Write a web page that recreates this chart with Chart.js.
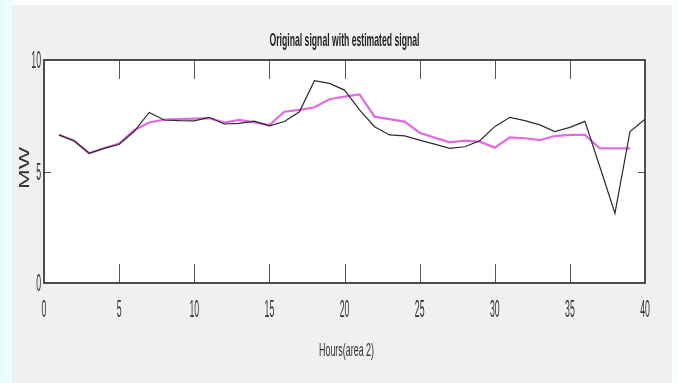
<!DOCTYPE html>
<html>
<head>
<meta charset="utf-8">
<script src="https://cdn.jsdelivr.net/npm/chart.js@4.4.1/dist/chart.umd.min.js"></script>
<style>
  html, body { margin: 0; padding: 0; background: #ffffff; }
  #wrap { width: 678px; height: 383px; }
</style>
</head>
<body>
<div id="wrap"><canvas id="c" width="678" height="383"></canvas></div>
<script>
// Hourly load for area 2 (MW): measured signal and its estimate
const hours = [1,2,3,4,5,6,7,8,9,10,11,12,13,14,15,16,17,18,19,20,
               21,22,23,24,25,26,27,28,29,30,31,32,33,34,35,36,37,38,39,40];
const original = [6.64,6.38,5.82,6.04,6.22,6.79,7.65,7.31,7.28,7.27,
                  7.43,7.13,7.16,7.26,7.05,7.24,7.68,9.07,8.95,8.65,
                  7.76,7.01,6.64,6.60,6.41,6.23,6.04,6.11,6.38,7.01,
                  7.43,7.28,7.09,6.79,6.98,7.25,5.20,3.13,6.79,7.35];
const estimated = [6.64,6.38,5.82,6.04,6.25,6.85,7.20,7.33,7.35,7.37,
                   7.39,7.19,7.31,7.20,7.08,7.68,7.76,7.88,8.24,8.36,
                   8.46,7.46,7.35,7.24,6.74,6.52,6.31,6.38,6.34,6.07,
                   6.53,6.49,6.41,6.59,6.64,6.64,6.04,6.04,6.04];
const xTicks = [0,5,10,15,20,25,30,35,40];
const yTicks = [0,5,10];
const titleText = 'Original signal with estimated signal';
const xTitle = 'Hours(area 2)';
const yTitle = 'MW';

const toPoints = (xs, ys) => ys.map((v, i) => ({ x: xs[i], y: v }));

// Draws text squeezed/stretched to a given width
function drawFitted(ctx, text, cx, cy, font, targetW, rot) {
  ctx.save();
  ctx.font = font;
  const w = ctx.measureText(text).width;
  ctx.translate(cx, cy);
  if (rot) ctx.rotate(rot);
  ctx.scale(targetW / w, 1);
  ctx.textAlign = 'center';
  ctx.textBaseline = 'middle';
  ctx.fillText(text, 0, 0);
  ctx.restore();
}
function drawScaled(ctx, text, x, y, font, sx, align) {
  ctx.save();
  ctx.font = font;
  ctx.translate(x, y);
  ctx.scale(sx, 1);
  ctx.textAlign = align;
  ctx.textBaseline = 'middle';
  ctx.fillText(text, 0, 0);
  ctx.restore();
}

const figure = {
  id: 'figure',
  beforeDraw(chart) {
    const ctx = chart.ctx;
    const a = chart.chartArea;
    ctx.save();
    ctx.fillStyle = '#fbfefe';
    ctx.fillRect(0, 0, chart.width, chart.height);
    const g = ctx.createLinearGradient(0, 0, 12, 0);
    g.addColorStop(0, '#e4fbfb');
    g.addColorStop(1, '#eefcfc');
    ctx.fillStyle = g;
    ctx.fillRect(0, 0, 12, chart.height);
    ctx.fillStyle = '#f0f0f0';
    ctx.fillRect(12, 5, 660, chart.height - 5);
    ctx.fillStyle = '#ffffff';
    ctx.fillRect(a.left, a.top, a.right - a.left, a.bottom - a.top);
    ctx.restore();
  },
  afterDraw(chart) {
    const ctx = chart.ctx;
    const a = chart.chartArea;
    const xs = chart.scales.x, ys = chart.scales.y;
    ctx.save();
    // inward tick marks
    ctx.strokeStyle = '#555555';
    ctx.lineWidth = 1;
    ctx.beginPath();
    xTicks.forEach(t => {
      if (t === xs.min || t === xs.max) return;
      const px = Math.round(xs.getPixelForValue(t)) + 0.5;
      ctx.moveTo(px, a.top); ctx.lineTo(px, a.top + 19);
      ctx.moveTo(px, a.bottom); ctx.lineTo(px, a.bottom - 19);
    });
    yTicks.forEach(t => {
      if (t === ys.min || t === ys.max) return;
      const py = Math.round(ys.getPixelForValue(t)) + 0.5;
      ctx.moveTo(a.left, py); ctx.lineTo(a.left + 7, py);
      ctx.moveTo(a.right, py); ctx.lineTo(a.right - 7, py);
    });
    ctx.stroke();
    // axes box
    ctx.strokeStyle = '#3a3a3a';
    ctx.lineWidth = 1.8;
    ctx.strokeRect(a.left, a.top, a.right - a.left, a.bottom - a.top);
    // tick labels
    ctx.fillStyle = '#333333';
    xTicks.forEach(t => {
      drawScaled(ctx, String(t), xs.getPixelForValue(t), a.bottom + 28,
                 '23px "Liberation Sans"', 0.38, 'center');
    });
    yTicks.forEach(t => {
      drawScaled(ctx, String(t), a.left - 3, ys.getPixelForValue(t) + 2,
                 '23px "Liberation Sans"', 0.38, 'right');
    });
    // titles
    const cx = (a.left + a.right) / 2;
    ctx.fillStyle = '#222222';
    drawFitted(ctx, titleText, cx, 41, 'bold 19px "Liberation Sans"', 150, 0);
    ctx.fillStyle = '#333333';
    drawFitted(ctx, xTitle, cx + 2, 351, '19px "Liberation Sans"', 55, 0);
    drawFitted(ctx, yTitle, 25, 168, '15px "Liberation Sans"', 42, -Math.PI / 2);
    ctx.restore();
  }
};

new Chart(document.getElementById('c'), {
  type: 'line',
  data: {
    datasets: [
      {
        label: 'Estimated',
        data: toPoints(hours, estimated),
        borderColor: 'rgba(220, 80, 220, 0.85)',
        borderWidth: 2.2,
        pointRadius: 0,
        tension: 0,
        order: 2
      },
      {
        label: 'Original',
        data: toPoints(hours, original),
        borderColor: '#2b2b2b',
        borderWidth: 1.2,
        pointRadius: 0,
        tension: 0,
        order: 1
      }
    ]
  },
  options: {
    responsive: false,
    animation: false,
    events: [],
    layout: { padding: { left: 44, top: 60, right: 33, bottom: 100 } },
    scales: {
      x: { type: 'linear', min: 0, max: 40, display: false },
      y: { type: 'linear', min: 0, max: 10, display: false }
    },
    plugins: {
      legend: { display: false },
      tooltip: { enabled: false },
      title: { display: false }
    }
  },
  plugins: [figure]
});
</script>
</body>
</html>
